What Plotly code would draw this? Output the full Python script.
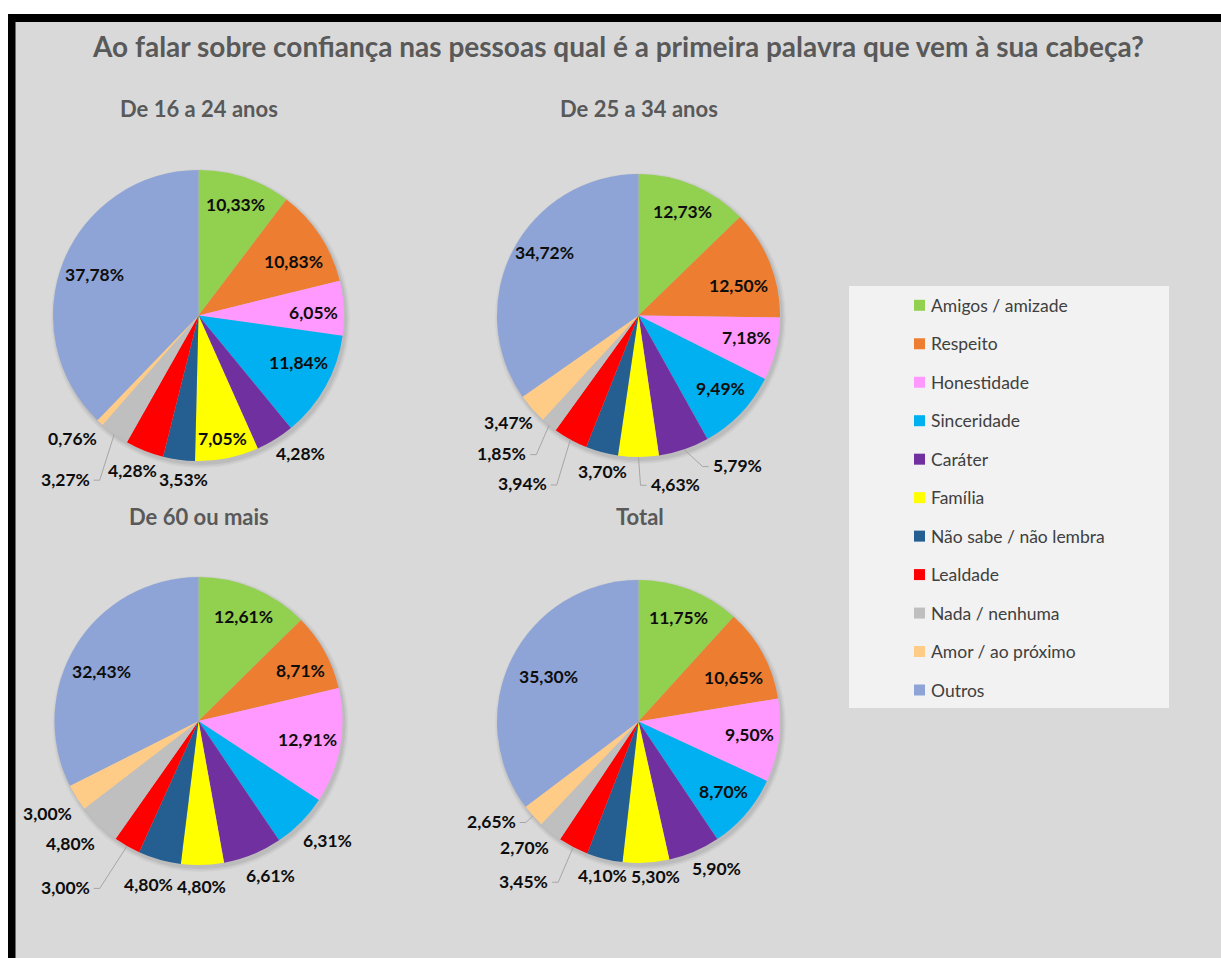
import math
import plotly.graph_objects as go

W, H = 1221, 958

# ---------------- data ----------------
categories = ["Amigos / amizade", "Respeito", "Honestidade", "Sinceridade", "Caráter",
              "Família", "Não sabe / não lembra", "Lealdade", "Nada / nenhuma",
              "Amor / ao próximo", "Outros"]

group_titles = ["De 16 a 24 anos", "De 25 a 34 anos", "De 60 ou mais", "Total"]

pct_16_24 = [10.33, 10.83, 6.05, 11.84, 4.28, 7.05, 3.53, 4.28, 3.27, 0.76, 37.78]
pct_25_34 = [12.73, 12.50, 7.18, 9.49, 5.79, 4.63, 3.70, 3.94, 1.85, 3.47, 34.72]
pct_60_mais = [12.61, 8.71, 12.91, 6.31, 6.61, 4.80, 4.80, 3.00, 4.80, 3.00, 32.43]
pct_total = [11.75, 10.65, 9.50, 8.70, 5.90, 5.30, 4.10, 3.45, 2.70, 2.65, 35.30]

chart_title = "Ao falar sobre confiança nas pessoas qual é a primeira palavra que vem à sua cabeça?"

# ---------------- style ----------------
colors = ["#92D050", "#ED7D31", "#FF99FF", "#00B0F0", "#7030A0", "#FFFF00",
          "#255E91", "#FF0000", "#BFBFBF", "#FFCC88", "#8FA4D6"]
FONT = "Lato"
TITLE_COLOR = "#595959"
LABEL_COLOR = "#0d0d0d"
LEADER_COLOR = "#a6a6a6"

# pie centre x, centre y, radius (pixels)
pie_geom = [(198.5, 315.5, 145.5), (638.5, 315.5, 141.5),
            (198.5, 721.0, 144.0), (638.5, 721.5, 141.5)]
title_pos = [(198.5, 109), (638.5, 109), (198.5, 516), (640.0, 516)]

# label placement per slice: (mode, radius factor, angle nudge in degrees)
# mode: "in"/"out" plain text, "L"/"R" text with a leader line to the left/right
label_place = [
    [("in", .80, -.3), ("in", .75, 3.7), ("in", .79, 1.4), ("in", .76, -3.9),
     ("out", 1.18, -4.8), ("in", .86, .3), ("out", 1.13, -2.6), ("out", 1.16, 1.2),
     ("L", 1.32, -4.4), ("out", 1.21, 3.1), ("in", .77, -.5)],
    [("in", .80, 0), ("in", .74, 5.2), ("in", .78, -2.3), ("in", .78, -2.1),
     ("R", 1.16, -4.3), ("R", 1.20, -.7), ("out", 1.13, -2.0), ("L", 1.33, -3.0),
     ("L", 1.22, -2.9), ("out", 1.19, 2.0), ("in", .80, 6.5)],
    [("in", .79, .5), ("in", .79, 2.8), ("in", .77, -.6), ("out", 1.22, -1.9),
     ("out", 1.18, -2.8), ("out", 1.15, .6), ("out", 1.19, 1.3), ("L", 1.35, .8),
     ("out", 1.23, 2.3), ("out", 1.23, .6), ("in", .76, -4.6)],
    [("in", .79, -.25), ("in", .74, 3.7), ("in", .79, -1.0), ("in", .78, -1.0),
     ("out", 1.18, -4.8), ("out", 1.10, -3.1), ("out", 1.12, -.9), ("L", 1.27, -.9),
     ("out", 1.20, 3.5), ("L", 1.07, 0), ("in", .71, .1)],
]

series = [pct_16_24, pct_25_34, pct_60_mais, pct_total]


def px(x):
    return x / W


def py(y):
    return 1 - y / H


def fmt(v):
    return f"{v:.2f}".replace(".", ",") + "%"


def polar(cx, cy, r, deg):
    a = math.radians(deg)
    return cx + r * math.sin(a), cy - r * math.cos(a)


fig = go.Figure()
shapes = []
annotations = []

# frame: white outer strip, black band, grey panel (paper)
shapes += [
    dict(type="rect", xref="paper", yref="paper", x0=0, x1=1, y0=py(14), y1=1,
         fillcolor="white", line_width=0, layer="below"),
    dict(type="rect", xref="paper", yref="paper", x0=0, x1=px(8), y0=0, y1=1,
         fillcolor="white", line_width=0, layer="below"),
    dict(type="rect", xref="paper", yref="paper", x0=px(8), x1=1, y0=py(22), y1=py(14),
         fillcolor="black", line_width=0, layer="below"),
    dict(type="rect", xref="paper", yref="paper", x0=px(8), x1=px(15.5), y0=0, y1=py(14),
         fillcolor="black", line_width=0, layer="below"),
]

annotations.append(dict(text=f"<b>{chart_title}</b>", x=px(617.5), y=py(46),
                        xref="paper", yref="paper", showarrow=False,
                        xanchor="center", yanchor="middle",
                        font=dict(family=FONT, size=28, color=TITLE_COLOR)))

for k, vals in enumerate(series):
    cx, cy, r = pie_geom[k]
    # soft drop shadow
    for dr, op in [(4, .035), (2.5, .045), (1, .06)]:
        shapes.append(dict(type="circle", xref="paper", yref="paper",
                           x0=px(cx + 2 - r - dr), x1=px(cx + 2 + r + dr),
                           y0=py(cy + 3 + r + dr), y1=py(cy + 3 - r - dr),
                           fillcolor=f"rgba(0,0,0,{op})", line_width=0, layer="below"))
    fig.add_trace(go.Pie(
        values=vals, labels=categories, sort=False, direction="clockwise", rotation=0,
        marker=dict(colors=colors, line=dict(width=0)), textinfo="none",
        hovertemplate="%{label}: %{value:.2f}%<extra></extra>",
        domain=dict(x=[px(cx - r), px(cx + r)], y=[py(cy + r), py(cy - r)]),
        showlegend=False,
    ))
    tx, ty = title_pos[k]
    annotations.append(dict(text=f"<b>{group_titles[k]}</b>", x=px(tx), y=py(ty),
                            xref="paper", yref="paper", showarrow=False,
                            xanchor="center", yanchor="middle",
                            font=dict(family=FONT, size=22, color=TITLE_COLOR)))

    total = sum(vals)
    cum = 0.0
    for i, v in enumerate(vals):
        mid = (cum + v / 2) / total * 360.0
        cum += v
        mode, rf, dang = label_place[k][i]
        lx, ly = polar(cx, cy, r * rf, mid + dang)
        font = dict(family=FONT, size=17.5, color=LABEL_COLOR)
        if mode in ("in", "out"):
            annotations.append(dict(text=f"<b>{fmt(v)}</b>", x=px(lx), y=py(ly),
                                    xref="paper", yref="paper", showarrow=False,
                                    xanchor="center", yanchor="middle", font=font))
        else:
            ex, ey = polar(cx, cy, r, mid)
            step = -6 if mode == "L" else 6
            shapes.append(dict(type="path", xref="paper", yref="paper",
                               path=f"M {px(ex)},{py(ey)} L {px(lx)},{py(ly)} L {px(lx + step)},{py(ly)}",
                               line=dict(color=LEADER_COLOR, width=1)))
            annotations.append(dict(text=f"<b>{fmt(v)}</b>",
                                    x=px(lx + step + (-2 if mode == "L" else 2)), y=py(ly - 1),
                                    xref="paper", yref="paper", showarrow=False,
                                    xanchor="right" if mode == "L" else "left",
                                    yanchor="middle", font=font))

# legend panel
lg_x0, lg_x1, lg_y0, lg_y1 = 849, 1169, 286, 708
shapes.append(dict(type="rect", xref="paper", yref="paper", x0=px(lg_x0), x1=px(lg_x1),
                   y0=py(lg_y1), y1=py(lg_y0), fillcolor="#f2f2f2", line_width=0,
                   layer="below"))
row0, row_step = 305.3, 38.47
for i, name in enumerate(categories):
    yc = row0 + i * row_step
    shapes.append(dict(type="rect", xref="paper", yref="paper",
                       x0=px(914), x1=px(925), y0=py(yc + 5.5), y1=py(yc - 5.5),
                       fillcolor=colors[i], line_width=0))
    annotations.append(dict(text=name, x=px(929), y=py(yc), xref="paper", yref="paper",
                            showarrow=False, xanchor="left", yanchor="middle",
                            font=dict(family=FONT, size=17.5, color="#404040")))

fig.update_layout(
    width=W, height=H, margin=dict(l=0, r=0, t=0, b=0),
    paper_bgcolor="#d9d9d9", plot_bgcolor="#d9d9d9",
    shapes=shapes, annotations=annotations, showlegend=False,
)

fig.write_html("out.html")
